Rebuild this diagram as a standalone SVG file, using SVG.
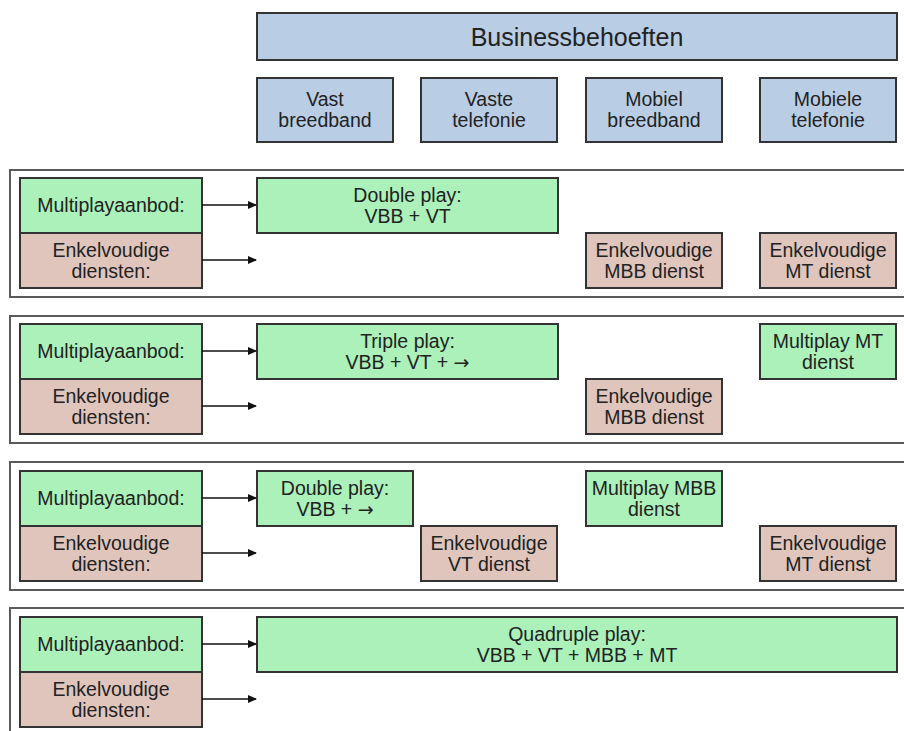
<svg xmlns="http://www.w3.org/2000/svg" width="904" height="731" viewBox="0 0 904 731">
<style>
text{font-family:"Liberation Sans",Arial,sans-serif;font-size:19.5px;fill:#222;text-anchor:middle}
.t{font-size:25px}
.ar{font-family:"DejaVu Sans",sans-serif;font-size:19px}
.b{fill:#b9cde5;stroke:#333;stroke-width:2}
.g{fill:#abf1b9;stroke:#333;stroke-width:2}
.p{fill:#e0c5bc;stroke:#333;stroke-width:2}
.panel{fill:none;stroke:#5a5a5a;stroke-width:2}
.c{stroke:#111;stroke-width:1.6;fill:none}
</style>
<defs>
<marker id="ah" markerWidth="9" markerHeight="9" refX="8" refY="4.5" orient="auto" markerUnits="userSpaceOnUse">
<path d="M0,0.5 L9,4.5 L0,8.5 Z" fill="#111"/>
</marker>
</defs>
<rect width="904" height="731" fill="#fff"/>
<g id="panels">
<rect class="panel" x="10" y="170" width="900" height="127"/>
<rect class="panel" x="10" y="316" width="900" height="127"/>
<rect class="panel" x="10" y="462" width="900" height="128"/>
<rect class="panel" x="10" y="608" width="900" height="140"/>
</g>
<g id="title"><rect class="b" x="257" y="13" width="640" height="47"/><text class="t" x="577" y="45.5">Businessbehoeften</text></g>
<g id="vbb"><rect class="b" x="257" y="78" width="136" height="64"/><text x="325" y="106">Vast</text><text x="325" y="127">breedband</text></g>
<g id="vt"><rect class="b" x="421" y="78" width="136" height="64"/><text x="489" y="106">Vaste</text><text x="489" y="127">telefonie</text></g>
<g id="mbb"><rect class="b" x="586" y="78" width="136" height="64"/><text x="654" y="106">Mobiel</text><text x="654" y="127">breedband</text></g>
<g id="mt"><rect class="b" x="760" y="78" width="136" height="64"/><text x="828" y="106">Mobiele</text><text x="828" y="127">telefonie</text></g>

<g id="p1-multi"><rect class="g" x="20" y="178" width="182" height="55"/><text x="111" y="212">Multiplayaanbod:</text></g>
<g id="p1-enkel"><rect class="p" x="20" y="233" width="182" height="55"/><text x="111" y="257">Enkelvoudige</text><text x="111" y="278">diensten:</text></g>
<g id="p1-dp"><rect class="g" x="257" y="178" width="301" height="55"/><text x="407.5" y="202">Double play:</text><text x="407.5" y="223">VBB + VT</text></g>
<g id="p1-mbb"><rect class="p" x="586" y="233" width="136" height="55"/><text x="654" y="257">Enkelvoudige</text><text x="654" y="278">MBB dienst</text></g>
<g id="p1-mt"><rect class="p" x="760" y="233" width="136" height="55"/><text x="828" y="257">Enkelvoudige</text><text x="828" y="278">MT dienst</text></g>

<g id="p2-multi"><rect class="g" x="20" y="324" width="182" height="55"/><text x="111" y="358">Multiplayaanbod:</text></g>
<g id="p2-enkel"><rect class="p" x="20" y="379" width="182" height="55"/><text x="111" y="403">Enkelvoudige</text><text x="111" y="424">diensten:</text></g>
<g id="p2-tp"><rect class="g" x="257" y="324" width="301" height="55"/><text x="407.5" y="348">Triple play:</text><text x="407.5" y="369">VBB + VT + <tspan class="ar">→</tspan></text></g>
<g id="p2-mt"><rect class="g" x="760" y="324" width="136" height="55"/><text x="828" y="348">Multiplay MT</text><text x="828" y="369">dienst</text></g>
<g id="p2-mbb"><rect class="p" x="586" y="379" width="136" height="55"/><text x="654" y="403">Enkelvoudige</text><text x="654" y="424">MBB dienst</text></g>

<g id="p3-multi"><rect class="g" x="20" y="471" width="182" height="55"/><text x="111" y="505">Multiplayaanbod:</text></g>
<g id="p3-enkel"><rect class="p" x="20" y="526" width="182" height="55"/><text x="111" y="550">Enkelvoudige</text><text x="111" y="571">diensten:</text></g>
<g id="p3-dp"><rect class="g" x="257" y="471" width="156" height="55"/><text x="335" y="495">Double play:</text><text x="335" y="516">VBB + <tspan class="ar">→</tspan></text></g>
<g id="p3-mbb"><rect class="g" x="586" y="471" width="136" height="55"/><text x="654" y="495">Multiplay MBB</text><text x="654" y="516">dienst</text></g>
<g id="p3-vt"><rect class="p" x="421" y="526" width="136" height="55"/><text x="489" y="550">Enkelvoudige</text><text x="489" y="571">VT dienst</text></g>
<g id="p3-mt"><rect class="p" x="760" y="526" width="136" height="55"/><text x="828" y="550">Enkelvoudige</text><text x="828" y="571">MT dienst</text></g>

<g id="p4-multi"><rect class="g" x="20" y="617" width="182" height="55"/><text x="111" y="651">Multiplayaanbod:</text></g>
<g id="p4-enkel"><rect class="p" x="20" y="672" width="182" height="55"/><text x="111" y="696">Enkelvoudige</text><text x="111" y="717">diensten:</text></g>
<g id="p4-qp"><rect class="g" x="257" y="617" width="640" height="55"/><text x="577" y="641">Quadruple play:</text><text x="577" y="662">VBB + VT + MBB + MT</text></g>

<g id="connectors">
<line class="c" x1="202" y1="205" x2="256" y2="205" marker-end="url(#ah)"/>
<line class="c" x1="202" y1="260" x2="256" y2="260" marker-end="url(#ah)"/>
<line class="c" x1="202" y1="351" x2="256" y2="351" marker-end="url(#ah)"/>
<line class="c" x1="202" y1="406" x2="256" y2="406" marker-end="url(#ah)"/>
<line class="c" x1="202" y1="498" x2="256" y2="498" marker-end="url(#ah)"/>
<line class="c" x1="202" y1="553" x2="256" y2="553" marker-end="url(#ah)"/>
<line class="c" x1="202" y1="644" x2="256" y2="644" marker-end="url(#ah)"/>
<line class="c" x1="202" y1="699" x2="256" y2="699" marker-end="url(#ah)"/>
</g>
</svg>
